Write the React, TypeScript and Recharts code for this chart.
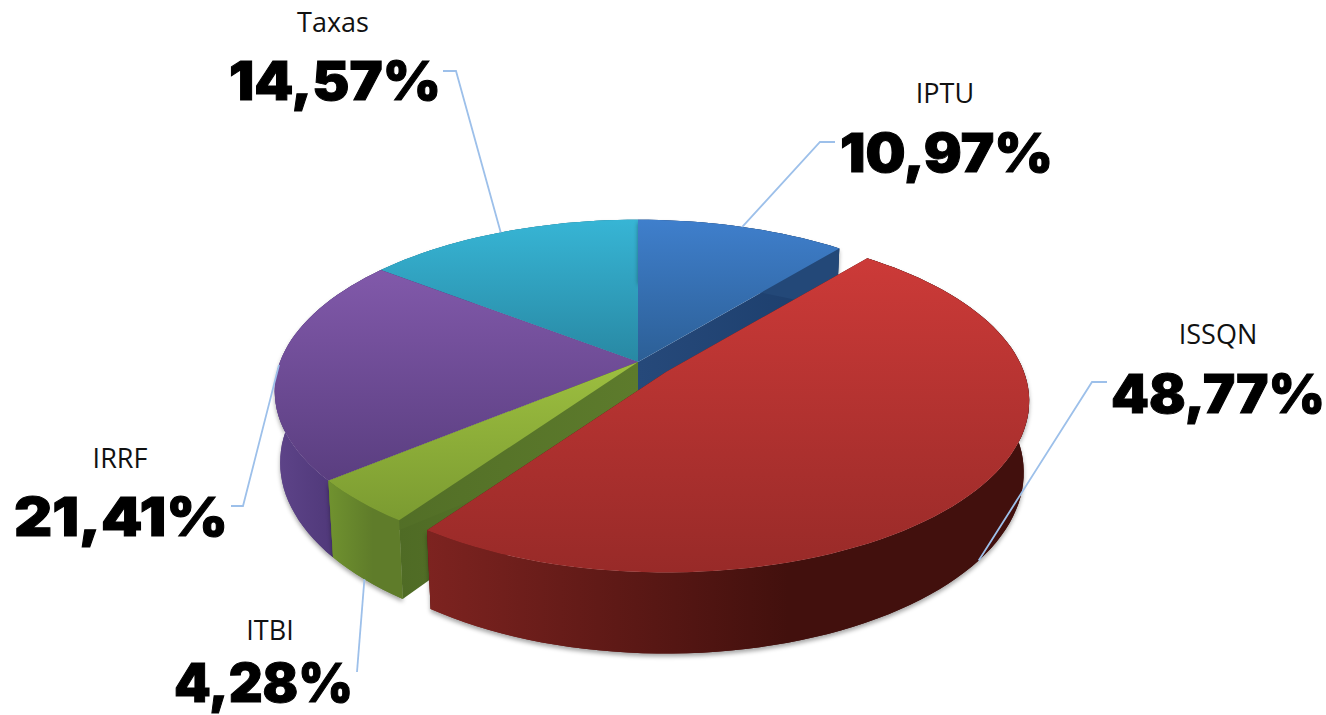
import { Pie, PieChart } from "recharts";

const categories = ["IPTU", "ISSQN", "ITBI", "IRRF", "Taxas"];
const shares = [10.97, 48.77, 4.28, 21.41, 14.57];

const chartData = categories.map((name, i) => ({ name, value: shares[i] }));

// back to front, the library keeps slices in data order so each slice gets its own Pie
const drawOrder = ["Taxas", "IRRF", "IPTU", "ITBI", "ISSQN"];

const explode: Record<string, number> = { ISSQN: 0.097 };

const TILT = 0.465;
const PERSPECTIVE = 0.17;
const DEPTH = 0.195;
const BASE_SCALE = 0.985;

const faces: Record<string, { top: string[]; side: string[]; cut: string[] }> = {
  IPTU: { top: ["#3f7fcc", "#2c5f96"], side: ["#2a5288", "#234878"], cut: ["#26497a", "#1b3d6b"] },
  ISSQN: { top: ["#cc3a38", "#982a28"], side: ["#7d2320", "#42100d"], cut: ["#5a1815", "#42100d"] },
  ITBI: { top: ["#9dbf40", "#7b9b31"], side: ["#70922f", "#5f7c2a"], cut: ["#4f6b25", "#5d7b2c"] },
  IRRF: { top: ["#8159aa", "#5a3e80"], side: ["#5e4489", "#4e3778"], cut: ["#4e3778", "#4e3778"] },
  Taxas: { top: ["#37b5d5", "#2888a3"], side: ["#2a88a3", "#2a88a3"], cut: ["#2a88a3", "#2a88a3"] },
};

const labelLayout: Record<string, { nameX: number; nameY: number; valueX: number; valueY: number; valueW: number; elbow: number[][] }> = {
  IPTU: { nameX: 945, nameY: 103, valueX: 840, valueY: 172, valueW: 213, elbow: [[820, 142], [835, 142]] },
  ISSQN: { nameX: 1218, nameY: 344, valueX: 1111, valueY: 413, valueW: 214, elbow: [[1092, 382], [1107, 382]] },
  ITBI: { nameX: 270, nameY: 640, valueX: 174, valueY: 702, valueW: 179, elbow: [[357, 672]] },
  IRRF: { nameX: 120, nameY: 468, valueX: 14, valueY: 536, valueW: 214, elbow: [[243, 506], [231, 506]] },
  Taxas: { nameX: 333, nameY: 32, valueX: 229, valueY: 100, valueW: 212, elbow: [[456, 71], [443, 71]] },
};

const rad = (a: number) => (a * Math.PI) / 180;

// plane point (u right, v away from viewer) to screen, level 1 is the bottom face
function project(cx: number, cy: number, r: number, u: number, v: number, level = 0) {
  const w = 1 + PERSPECTIVE * v;
  const s = level ? BASE_SCALE : 1;
  return [cx + (r * s * u) / w, cy - (r * TILT * s * v) / w + (level * r * DEPTH) / w];
}

// exploded slices slide as a whole on screen
function shiftOf(name: string, midAngle: number, cx: number, cy: number, r: number) {
  const d = explode[name] || 0;
  const p = project(cx, cy, r, d * Math.cos(rad(midAngle)), d * Math.sin(rad(midAngle)));
  return [p[0] - cx, p[1] - cy];
}

function arcPoints(cx: number, cy: number, r: number, a0: number, a1: number, level: number) {
  const n = Math.max(8, Math.ceil(Math.abs(a1 - a0) / 2));
  const pts: number[][] = [];
  for (let i = 0; i <= n; i++) {
    const a = rad(a0 + ((a1 - a0) * i) / n);
    pts.push(project(cx, cy, r, Math.cos(a), Math.sin(a), level));
  }
  return pts;
}

const toPath = (pts: number[][]) => "M" + pts.map((p) => `${p[0].toFixed(1)},${p[1].toFixed(1)}`).join("L") + "Z";

const sliceShape = (only: string) => (props: any) => {
  const { name, cx, cy, outerRadius: r, startAngle, endAngle } = props;
  if (name !== only) return <g />;
  const shift = shiftOf(name, (startAngle + endAngle) / 2, cx, cy, r);
  const topArc = arcPoints(cx, cy, r, startAngle, endAngle, 0);
  const baseArc = arcPoints(cx, cy, r, startAngle, endAngle, 1);
  const apexTop = project(cx, cy, r, 0, 0, 0);
  const apexBase = project(cx, cy, r, 0, 0, 1);
  const startCut = [apexTop, topArc[0], baseArc[0], apexBase];
  const endCut = [apexTop, topArc[topArc.length - 1], baseArc[baseArc.length - 1], apexBase];
  const wall = [...topArc, ...[...baseArc].reverse()];
  return (
    <g transform={`translate(${shift[0]} ${shift[1]})`}>
      <path d={toPath(wall)} fill={`url(#side-${name})`} style={{ filter: "drop-shadow(0px 3px 2px rgba(0,0,0,0.35))" }} />
      <path d={toPath(startCut)} fill={`url(#cut-${name})`} />
      <path d={toPath(endCut)} fill={`url(#cut-${name})`} />
      <path d={toPath(wall)} fill={`url(#side-${name})`} />
      <path d={toPath([apexTop, ...topArc])} fill={`url(#top-${name})`} />
    </g>
  );
};

const renderLabel = (props: any) => {
  const { name, value, cx, cy, outerRadius: r, midAngle } = props;
  const layout = labelLayout[name];
  const shift = shiftOf(name, midAngle, cx, cy, r);
  const v = Math.sin(rad(midAngle));
  const a = project(cx, cy, r, Math.cos(rad(midAngle)), v, v < -0.3 ? 1 : 0);
  const anchor = [a[0] + shift[0], a[1] + shift[1]];
  const line = [anchor, ...layout.elbow].map((p) => p.join(",")).join(" ");
  return (
    <g key={name}>
      <polyline points={line} fill="none" stroke="#9dc0ea" strokeWidth={1.8} />
      <text x={layout.nameX} y={layout.nameY} textAnchor="middle" fontFamily="'Open Sans'" fontSize={27} fill="#111">
        {name}
      </text>
      <text
        x={layout.valueX}
        y={layout.valueY}
        textLength={layout.valueW}
        lengthAdjust="spacingAndGlyphs"
        fontFamily="Inter"
        fontWeight={900}
        fontSize={53}
        fill="#000"
        stroke="#000"
        strokeWidth={1}
      >
        {value.toFixed(2).replace(".", ",")}%
      </text>
    </g>
  );
};

export default function App() {
  return (
    <div style={{ position: "absolute", left: 0, top: 0, width: 1326, height: 715, background: "#fff" }}>
      <PieChart width={1326} height={715} margin={{ top: 0, right: 0, bottom: 0, left: 0 }}>
        <defs>
          {categories.map((name) => (
            <g key={name}>
              <linearGradient id={`top-${name}`} x1="0" y1="0" x2="0" y2="1">
                <stop offset="0%" stopColor={faces[name].top[0]} />
                <stop offset="100%" stopColor={faces[name].top[1]} />
              </linearGradient>
              <linearGradient id={`side-${name}`} x1="0" y1="0" x2="1" y2="0">
                <stop offset="0%" stopColor={faces[name].side[0]} />
                <stop offset="60%" stopColor={faces[name].side[1]} />
                <stop offset="100%" stopColor={faces[name].side[1]} />
              </linearGradient>
              <linearGradient id={`cut-${name}`} x1="0" y1="0" x2="1" y2="0">
                <stop offset="0%" stopColor={faces[name].cut[0]} />
                <stop offset="100%" stopColor={faces[name].cut[1]} />
              </linearGradient>
            </g>
          ))}
        </defs>
        {drawOrder.map((name) => (
          <Pie
            key={name}
            data={chartData}
            dataKey="value"
            nameKey="name"
            cx={638}
            cy={362}
            innerRadius={0}
            outerRadius={358}
            startAngle={90}
            endAngle={-270}
            stroke="none"
            isAnimationActive={false}
            shape={sliceShape(name)}
          />
        ))}
        <Pie
          data={chartData}
          dataKey="value"
          nameKey="name"
          cx={638}
          cy={362}
          innerRadius={0}
          outerRadius={358}
          startAngle={90}
          endAngle={-270}
          stroke="none"
          isAnimationActive={false}
          shape={() => <g />}
          labelLine={false}
          label={renderLabel}
        />
      </PieChart>
    </div>
  );
}
